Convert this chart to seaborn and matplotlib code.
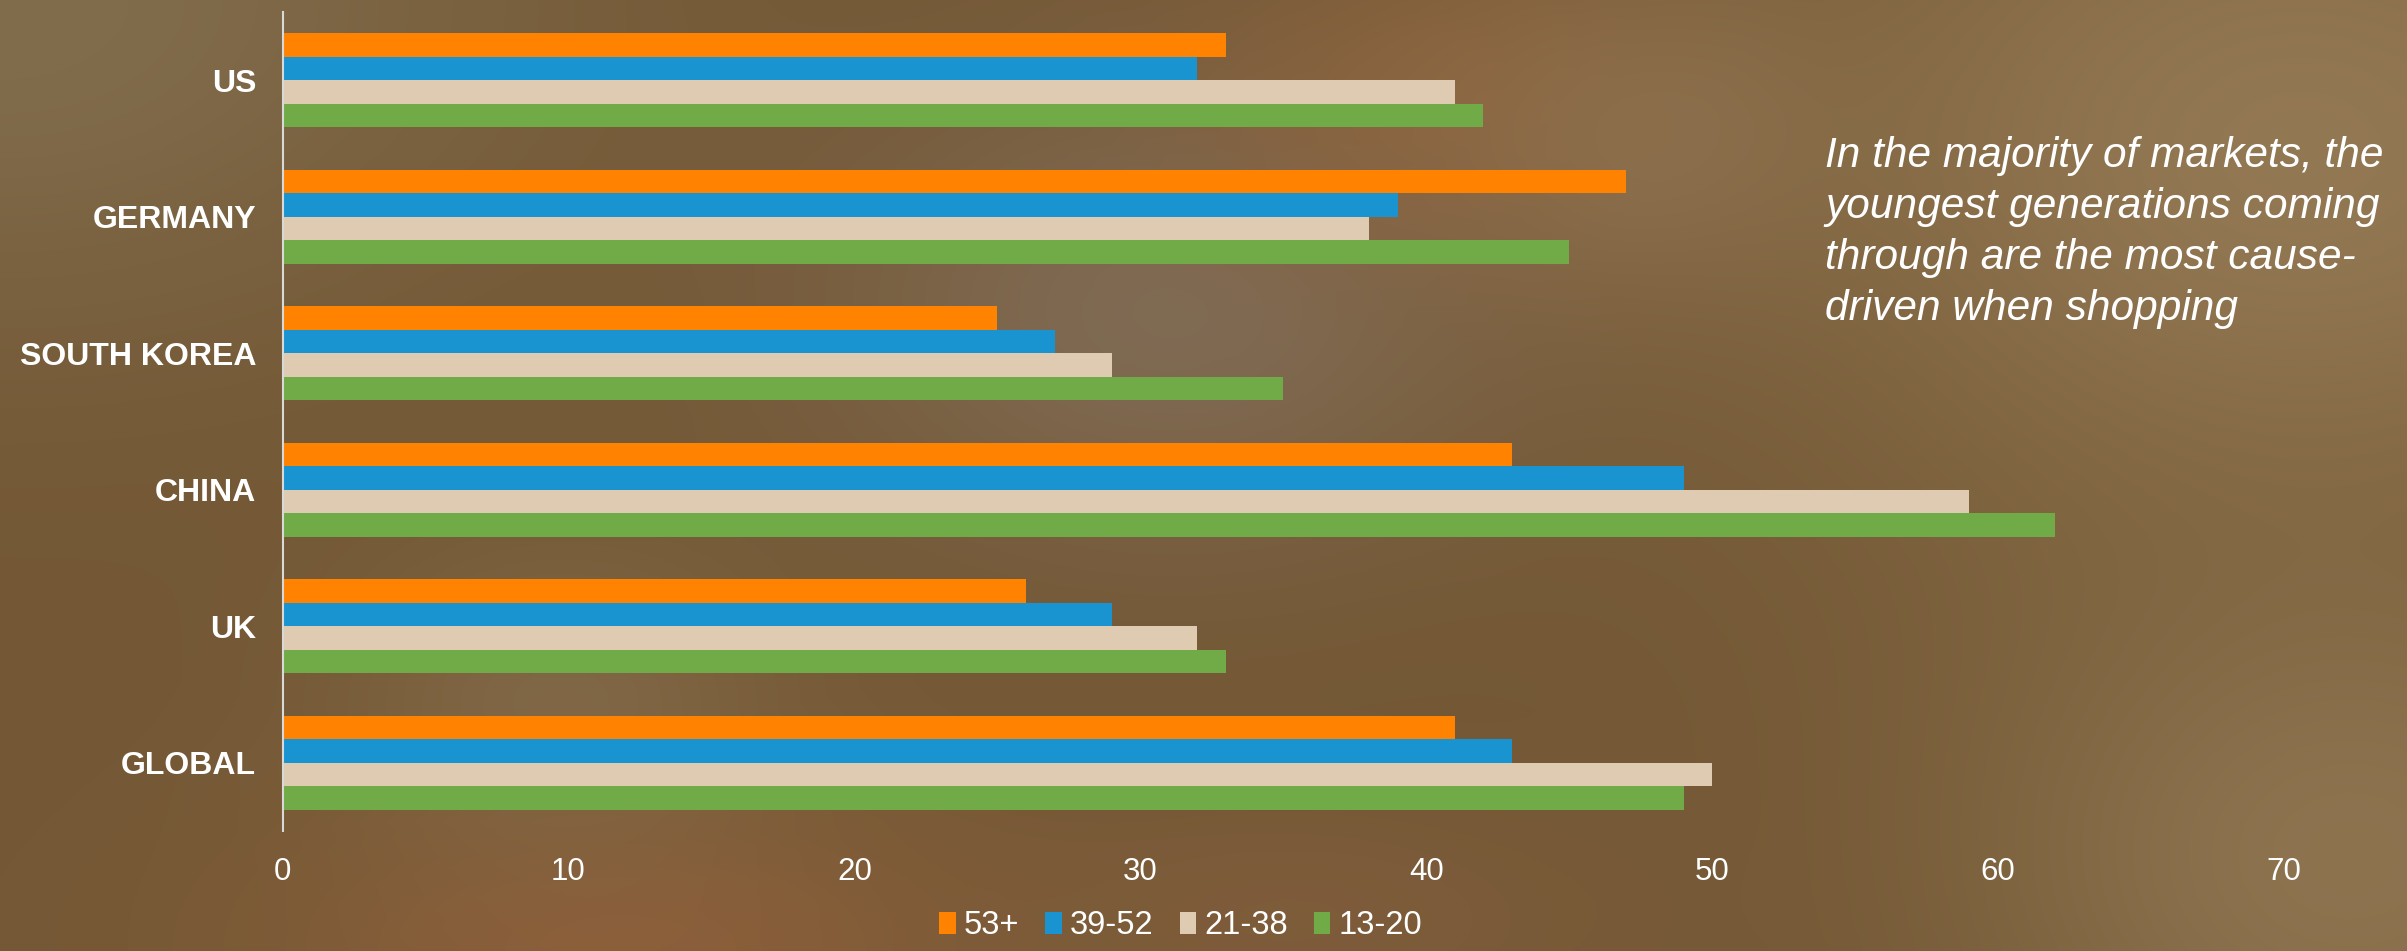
import numpy as np
import pandas as pd
import matplotlib
matplotlib.use("Agg")
import matplotlib.pyplot as plt
import seaborn as sns
from matplotlib.patches import Patch

# ---- data -------------------------------------------------------------
markets = ["US", "GERMANY", "SOUTH KOREA", "CHINA", "UK", "GLOBAL"]
age_groups = ["53+", "39-52", "21-38", "13-20"]
share_53_plus = [33, 47, 25, 43, 26, 41]
share_39_52 = [32, 39, 27, 49, 29, 43]
share_21_38 = [41, 38, 29, 59, 32, 50]
share_13_20 = [42, 45, 35, 62, 33, 49]
x_ticks = [0, 10, 20, 30, 40, 50, 60, 70]
bar_colors = ["#FF8200", "#1A94D0", "#DFCBB2", "#70AB48"]
note_lines = [
    "In the majority of markets, the",
    "youngest generations coming",
    "through are the most cause-",
    "driven when shopping",
]

series = [share_53_plus, share_39_52, share_21_38, share_13_20]
df = pd.DataFrame(
    [(m, g, v) for g, vals in zip(age_groups, series) for m, v in zip(markets, vals)],
    columns=["market", "age", "share"],
)

# ---- style ------------------------------------------------------------
sns.set_theme(style="white")
plt.rcParams["font.family"] = ["Liberation Sans", "DejaVu Sans"]

W, H = 2407, 951
fig = plt.figure(figsize=(W / 100, H / 100), dpi=100)

# warm brown textured backdrop built from soft colour pools
yy, xx = np.mgrid[0:H, 0:W]
img = np.ones((H, W, 3)) * np.array([0x74, 0x58, 0x35]) / 255.0


def pool(cx, cy, rx, ry, hexcol, strength):
    col = np.array([int(hexcol[i:i + 2], 16) for i in (1, 3, 5)]) / 255.0
    w = strength * np.exp(-(((xx - cx) / rx) ** 2 + ((yy - cy) / ry) ** 2))
    img[:] = img * (1 - w[..., None]) + col * w[..., None]


pool(0, 0, 520, 320, "#837050", 0.85)
pool(1170, 310, 340, 230, "#847260", 0.7)
pool(1470, 100, 260, 150, "#93653e", 0.7)
pool(1650, 140, 200, 160, "#8e7352", 0.6)
pool(2300, 150, 520, 380, "#967c56", 0.9)
pool(2350, 860, 380, 300, "#937a55", 0.8)
pool(620, 950, 360, 160, "#8e5f3a", 0.9)
pool(560, 700, 220, 160, "#87704f", 0.6)
pool(1300, 920, 300, 120, "#876040", 0.5)

bg = fig.add_axes([0, 0, 1, 1], zorder=-10)
bg.imshow(img, aspect="auto", extent=[0, 1, 0, 1])
bg.axis("off")

# ---- bars -------------------------------------------------------------
ax = fig.add_axes([282.5 / W, 1 - 831 / H, (2284 - 282.5) / W, (831 - 12) / H])
ax.patch.set_alpha(0)
sns.barplot(
    data=df, y="market", x="share", hue="age", order=markets, hue_order=age_groups,
    palette=bar_colors, orient="h", width=0.686, saturation=1, ax=ax,
    legend=False, errorbar=None, linewidth=0,
)
ax.set_xlim(0, 70)
ax.set_ylim(5.5, -0.5)
ax.set_xticks(x_ticks)
ax.set_xlabel("")
ax.set_ylabel("")
for s in ["top", "right", "bottom"]:
    ax.spines[s].set_visible(False)
ax.spines["left"].set_color("#D9D9D9")
ax.spines["left"].set_linewidth(1.5)
ax.tick_params(axis="x", length=0, pad=19, labelsize=22.5, labelcolor="white")
ax.tick_params(axis="y", length=0, pad=19, labelsize=23, labelcolor="white")
for lbl in ax.get_yticklabels():
    lbl.set_fontweight("bold")
ax.grid(False)

# ---- legend -----------------------------------------------------------
handles = [Patch(facecolor=c, edgecolor="none", label=g) for g, c in zip(age_groups, bar_colors)]
leg = fig.legend(
    handles=handles, loc="center", bbox_to_anchor=(0.4905, 1 - 926 / H), ncol=4,
    frameon=False, fontsize=23.5, handlelength=0.5, handleheight=0.65,
    handletextpad=0.25, columnspacing=0.8,
)
for t in leg.get_texts():
    t.set_color("white")

# ---- side note --------------------------------------------------------
baselines = [167, 218, 269, 320]
for line, yb in zip(note_lines, baselines):
    fig.text(1825 / W, 1 - yb / H, line, fontsize=30.5, fontstyle="italic",
             color="white", ha="left", va="baseline")

fig.savefig("out.png", dpi=100)
